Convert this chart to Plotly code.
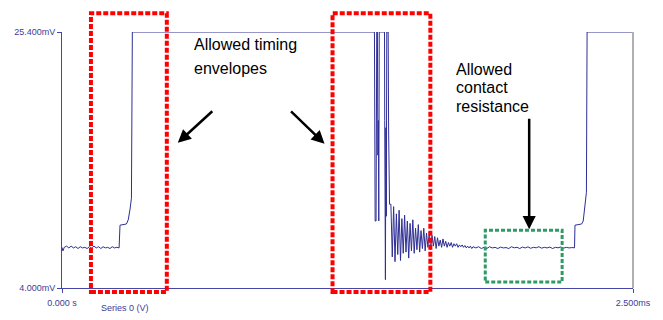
import plotly.graph_objects as go

# ---- data (time in ms, voltage in mV) ----
t_start = [0.000, 0.004, 0.010, 0.020, 0.030, 0.040, 0.050, 0.060, 0.070, 0.080, 0.090,
           0.100, 0.110, 0.120, 0.130, 0.140, 0.150, 0.160, 0.170, 0.180, 0.190, 0.200,
           0.210, 0.220, 0.230, 0.240, 0.250, 0.254, 0.282, 0.290, 0.298, 0.304, 0.308]
v_start = [7.40, 7.10, 7.40, 7.50, 7.35, 7.50, 7.35, 7.45, 7.30, 7.45, 7.35,
           7.40, 7.30, 7.45, 7.35, 7.50, 7.35, 7.45, 7.30, 7.45, 7.35, 7.40,
           7.30, 7.45, 7.35, 7.40, 7.35, 9.25, 9.35, 9.70, 10.6, 11.5, 25.4]

t_bounce = [1.368, 1.371, 1.375, 1.378, 1.381, 1.383, 1.385, 1.387, 1.389, 1.398,
            1.412, 1.413, 1.416, 1.418, 1.420, 1.422, 1.428, 1.430, 1.434]
v_bounce = [25.4, 9.6, 9.6, 25.4, 25.4, 15.1, 18.0, 9.6, 25.4, 25.4,
            25.4, 18.0, 4.7, 17.4, 10.0, 25.4, 25.4, 17.2, 11.0]

t_ring = [1.440, 1.446, 1.452, 1.458, 1.464, 1.470, 1.476, 1.482, 1.488, 1.494,
          1.500, 1.506, 1.512, 1.518, 1.524, 1.530, 1.536, 1.542, 1.548, 1.554,
          1.560, 1.566, 1.572, 1.578, 1.584, 1.590, 1.596, 1.602, 1.608, 1.614,
          1.620, 1.626, 1.632, 1.638, 1.644, 1.650, 1.656, 1.662, 1.668, 1.674,
          1.680, 1.686, 1.692, 1.698, 1.704, 1.710, 1.716, 1.722, 1.728, 1.734,
          1.740, 1.746, 1.752, 1.758, 1.764, 1.770, 1.776, 1.782, 1.788, 1.794, 1.800]
v_ring = [11.0, 6.6, 10.8, 6.2, 10.2, 6.8, 10.5, 6.3, 9.8, 6.9,
          10.1, 7.0, 9.6, 6.5, 9.4, 7.1, 9.7, 6.9, 9.0, 7.2,
          9.3, 7.0, 8.8, 7.3, 9.0, 7.1, 8.6, 7.4, 8.7, 7.2,
          8.4, 7.5, 8.3, 7.3, 8.2, 7.5, 8.0, 7.4, 8.1, 7.5,
          7.9, 7.4, 7.8, 7.5, 7.8, 7.4, 7.7, 7.5, 7.7, 7.4,
          7.6, 7.45, 7.6, 7.4, 7.55, 7.35, 7.5, 7.35, 7.5, 7.3, 7.45]

t_settle = [1.812, 1.824, 1.836, 1.848, 1.860, 1.872, 1.884, 1.896, 1.908, 1.920,
            1.932, 1.944, 1.956, 1.968, 1.980, 1.992, 2.004, 2.016, 2.028, 2.040,
            2.052, 2.064, 2.076, 2.088, 2.100, 2.112, 2.124, 2.136, 2.148, 2.160,
            2.172, 2.184, 2.196, 2.208, 2.220, 2.232, 2.244,
            2.246, 2.275, 2.282, 2.290, 2.296, 2.299, 2.500]
v_settle = [7.35, 7.45, 7.30, 7.40, 7.30, 7.45, 7.35, 7.40, 7.30, 7.42,
            7.35, 7.38, 7.30, 7.45, 7.36, 7.40, 7.30, 7.42, 7.35, 7.44,
            7.32, 7.40, 7.36, 7.45, 7.33, 7.40, 7.35, 7.42, 7.30, 7.40,
            7.36, 7.43, 7.33, 7.40, 7.35, 7.38, 7.36,
            9.25, 9.35, 9.60, 10.8, 12.0, 25.4, 25.4]

x_range = [0.0, 2.5]
y_range = [4.0, 25.4]
x_tick_labels = ["0.000 s", "2.500ms"]
y_tick_labels = ["4.000mV", "25.400mV"]
series_name = "Series 0 (V)"

t_all = t_start + t_bounce + t_ring + t_settle
v_all = v_start + v_bounce + v_ring + v_settle

# ---- layout geometry (pixels) ----
W, H = 663, 320
L, R, T, B = 62, 634, 32, 293


def px(x):
    return (x - L) / (R - L)


def py(y):
    return (B - y) / (B - T)


AX = "#4646a8"
TXT = "#3c3c96"

fig = go.Figure()
fig.add_trace(go.Scatter(x=t_all, y=v_all, mode="lines",
                         line=dict(color="#2e2e94", width=1), hoverinfo="skip",
                         cliponaxis=False))

shapes = [
    # right gray border
    dict(type="line", xref="paper", yref="paper", x0=1, x1=1, y0=0, y1=1,
         line=dict(color="#b0b0b0", width=2)),
    # red timing envelopes
    dict(type="rect", xref="paper", yref="paper", x0=px(91), x1=px(167), y0=py(297), y1=py(13),
         line=dict(color="#ff0000", width=4, dash="5px,2px")),
    dict(type="rect", xref="paper", yref="paper", x0=px(333), x1=px(431), y0=py(297), y1=py(13),
         line=dict(color="#ff0000", width=4, dash="5px,2px")),
    # green resistance box
    dict(type="rect", xref="paper", yref="paper", x0=px(486), x1=px(563), y0=py(287), y1=py(234),
         line=dict(color="#2f9a66", width=3, dash="4px,2px")),
]

annotations = []
for txt, x, y in [("Allowed timing", 192, 45), ("envelopes", 192, 69),
                  ("Allowed", 455, 70), ("contact", 455, 89), ("resistance", 455, 108)]:
    annotations.append(dict(text=txt, xref="paper", yref="paper", x=px(x), y=py(y),
                            xanchor="left", yanchor="middle", showarrow=False,
                            font=dict(family="Liberation Sans, Arial", size=16, color="#000000")))

for tip, tail in [((178, 145), (214, 112)), ((325, 146), (290, 112)), ((530, 233), (530, 121))]:
    annotations.append(dict(text="", xref="paper", yref="paper", x=px(tip[0]), y=py(tip[1]),
                            ax=tail[0] - tip[0], ay=tail[1] - tip[1], showarrow=True,
                            arrowhead=2, arrowsize=1.05, arrowwidth=2.5, arrowcolor="#000000"))

annotations.append(dict(text=series_name, xref="paper", yref="paper", x=px(125), y=py(313),
                        xanchor="center", yanchor="middle", showarrow=False,
                        font=dict(family="Liberation Sans, Arial", size=9, color=TXT)))

fig.update_layout(
    width=W, height=H,
    margin=dict(l=L, r=W - R, t=T, b=H - B, pad=0),
    paper_bgcolor="white", plot_bgcolor="white",
    showlegend=False,
    shapes=shapes, annotations=annotations,
    xaxis=dict(range=x_range, tickvals=x_range, ticktext=x_tick_labels,
               showgrid=False, zeroline=False, showline=True, linecolor=AX, linewidth=1,
               ticks="outside", ticklen=4, tickcolor=AX, tickwidth=1, ticklabelstandoff=2,
               tickfont=dict(family="Liberation Sans, Arial", size=9, color=TXT)),
    yaxis=dict(range=y_range, tickvals=y_range, ticktext=y_tick_labels,
               showgrid=False, zeroline=False, showline=True, linecolor=AX, linewidth=1,
               ticks="outside", ticklen=4, tickcolor=AX, tickwidth=1,
               tickfont=dict(family="Liberation Sans, Arial", size=9, color=TXT)),
)

fig.write_html("out.html")
